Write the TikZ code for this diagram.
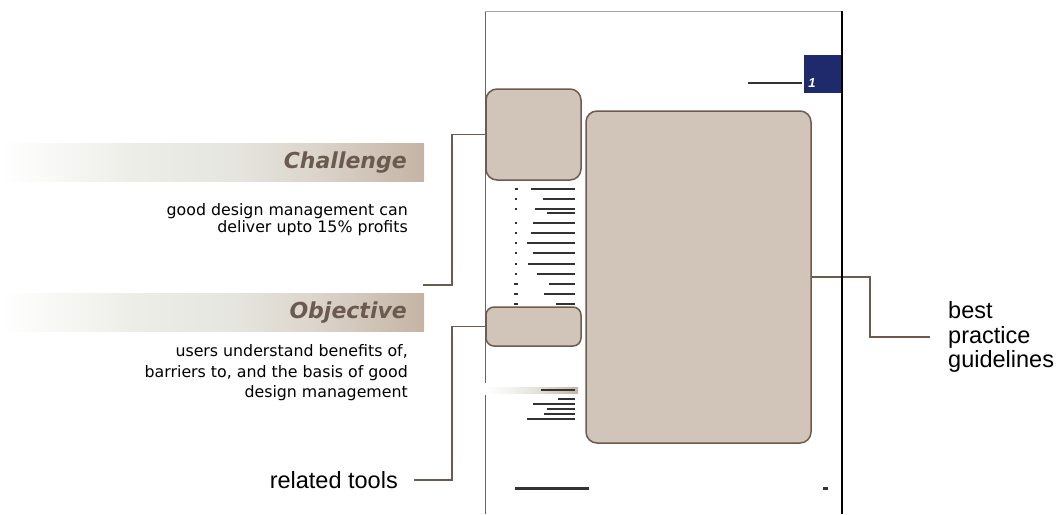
\documentclass[tikz,border=0pt]{standalone}
\usepackage{fontspec}
\setmainfont{Liberation Sans}
\newfontfamily\tahoma{DejaVu Sans}
\definecolor{boxfill}{HTML}{D1C5B9}
\definecolor{boxline}{HTML}{6E5A4E}
\definecolor{navy}{HTML}{1E2A6C}
\definecolor{heading}{HTML}{6B5A4F}
\definecolor{greek}{HTML}{333333}
\definecolor{barA}{HTML}{EEEEE9}
\definecolor{barB}{HTML}{E6E6E0}
\definecolor{barC}{HTML}{DCD5CC}
\definecolor{barD}{HTML}{C4B4A4}
\pgfdeclarehorizontalshading{headbar}{100bp}{color(0bp)=(white); color(25bp)=(white); color(40bp)=(barA); color(52bp)=(barB); color(62bp)=(barC); color(75bp)=(barD); color(100bp)=(barD)}
\pgfdeclarehorizontalshading{minibar}{100bp}{color(0bp)=(white); color(25bp)=(white); color(50bp)=(barB); color(75bp)=(barD); color(100bp)=(barD)}
\tikzset{
  tbox/.style={draw=boxline, fill=boxfill, line width=1.5pt, rounded corners=11pt, inner sep=0pt},
  conn/.style={draw=boxline, line width=1.3pt},
  greekline/.style={draw=greek, line width=2.5pt},
  headtext/.style={font=\tahoma\bfseries\itshape\fontsize{22}{26}\selectfont, text=heading, inner sep=0pt},
  desctext/.style={font=\tahoma\fontsize{15.8}{17}\selectfont, align=right, inner sep=0pt},
  labeltext/.style={font=\fontsize{23.5}{24.5}\selectfont, inner sep=0pt},
}
\begin{document}
\begin{tikzpicture}[x=1pt,y=-1pt]
\useasboundingbox (0,0) rectangle (1059,514);
% heading bars
\shade[shading=headbar] (0,143) rectangle (424,181);
\shade[shading=headbar] (0,293) rectangle (424,331);
\node[headtext, anchor=east] (chal) at (407,163) {Challenge};
\node[headtext, anchor=east] (obj) at (407,313) {Objective};
\node[desctext, anchor=east] (chaldesc) at (408,220) {good design management can\\ deliver upto 15\% profits};
\node[desctext, anchor=east, font=\tahoma\fontsize{15.8}{20.5}\selectfont] (objdesc) at (408,373) {users understand benefits of,\\ barriers to, and the basis of good\\ design management};
\node[labeltext, anchor=east] (rt) at (398,480) {related tools};
\node[labeltext, anchor=west, align=left] (bp) at (948,337) {best\\ practice\\ guidelines};
% page
\draw[gray!80!black, line width=0.8pt] (485,11) -- (485,383) (485,395) -- (485,514);
\draw[gray!70, line width=0.8pt] (485,11) -- (842,11);
% header
\fill[navy] (804,55) rectangle (842,93);
\node[text=white, font=\bfseries\itshape\fontsize{13}{14}\selectfont, inner sep=0pt] (pagenum) at (812,83) {1};
\draw[greekline] (748,83) -- (802,83);
% greeked list
\foreach \y/\l in {189/531, 199/543, 209/535, 213/547, 223/533, 233/531, 243/527, 253/533, 264/528, 274/537, 284/549, 294/544, 304/556}
  \draw[greekline] (\l,\y) -- (575,\y);
\foreach \y/\w in {189/1.5, 199/1, 209/1, 223/1, 233/1, 243/1, 253/1, 264/1, 274/1, 284/2, 294/2, 304/2}
  \fill[greek] (516-\w,\y-1.3) rectangle (516+\w,\y+1.3);
\shade[shading=minibar] (486,387) rectangle (578,393);
\draw[greekline] (541,390) -- (575,390);
\foreach \y/\l in {399/558, 404/533, 409/547, 414/544, 419/527}
  \draw[greek, line width=2.2pt] (\l,\y) -- (575,\y);
\draw[greek, line width=3pt] (515,488) -- (589,488);
\draw[greek, line width=3pt] (823,488) -- (828,488);
% boxes
\node[tbox, minimum width=95pt, minimum height=91pt] (tl) at (533.5,134.5) {};
\node[tbox, minimum width=95pt, minimum height=39pt, rounded corners=8pt] (rtbox) at (533.5,326.5) {};
\node[tbox, minimum width=225pt, minimum height=332pt] (big) at (698.5,277) {};
% connectors
\coordinate (chalend) at (423,285);
\draw[conn] (chalend) -- (452,285) |- (tl.west);
\draw[conn] ([xshift=16pt]rt.east) -- (452,480) |- (rtbox.west);
\draw[conn] (big.east) -- (870,277) |- ([xshift=-18pt]bp.west);
% right page edge
\draw[black, line width=2pt] (842,11) -- (842,514);
\end{tikzpicture}
\end{document}
